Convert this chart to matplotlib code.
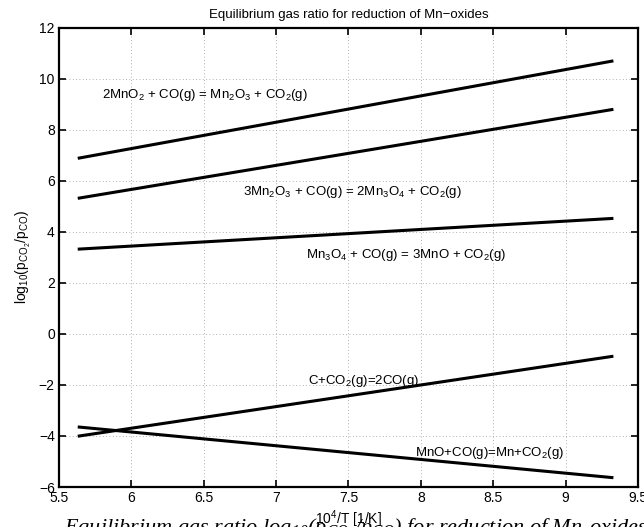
import matplotlib
matplotlib.use('Agg')
import numpy as np
import matplotlib.pyplot as plt

# x = 10^4/T, ends of the temperature range
inv_T = [5.64, 9.32]

# log10(pCO2/pCO) at both ends
mno2_mn2o3 = [6.9, 10.7]
mn2o3_mn3o4 = [5.33, 8.8]
mn3o4_mno = [3.33, 4.53]
boudouard = [-4.0, -0.88]
mno_mn = [-3.65, -5.63]

labels = [
    r"2MnO$_2$ + CO(g) = Mn$_2$O$_3$ + CO$_2$(g)",
    r"3Mn$_2$O$_3$ + CO(g) = 2Mn$_3$O$_4$ + CO$_2$(g)",
    r"Mn$_3$O$_4$ + CO(g) = 3MnO + CO$_2$(g)",
    r"C+CO$_2$(g)=2CO(g)",
    r"MnO+CO(g)=Mn+CO$_2$(g)",
]
label_x = [5.80, 6.77, 7.21, 7.22, 7.96]
label_y = [9.37, 5.58, 3.10, -1.85, -4.65]

plt.rcParams['font.family'] = ['Liberation Sans', 'DejaVu Sans']
plt.rcParams['mathtext.fontset'] = 'custom'
plt.rcParams['mathtext.rm'] = 'Liberation Sans'
plt.rcParams['mathtext.it'] = 'Liberation Sans'
plt.rcParams['mathtext.default'] = 'regular'

fig = plt.figure(figsize=(6.44, 5.27), dpi=100)
ax = fig.add_axes([0.0916, 0.0759, 0.899, 0.871])

for ys in [mno2_mn2o3, mn2o3_mn3o4, mn3o4_mno, boudouard, mno_mn]:
    ax.plot(inv_T, ys, color="black", linewidth=2.2)

for t, x, y in zip(labels, label_x, label_y):
    ax.text(x, y, t, fontsize=9.5, ha="left", va="center")

ax.set_xlim(5.5, 9.5)
ax.set_ylim(-6, 12)
ax.set_xticks(np.arange(5.5, 9.51, 0.5))
ax.set_xticklabels(["5.5", "6", "6.5", "7", "7.5", "8", "8.5", "9", "9.5"])
ax.set_yticks(np.arange(-6, 12.1, 2))
ax.set_yticklabels([str(v).replace("-", "\u2212") for v in range(-6, 13, 2)])

ax.grid(True, linestyle=(0, (1, 3)), color="gray", linewidth=0.6, alpha=0.8)
ax.tick_params(direction="in", top=True, right=True, length=5, width=1.2,
               labelsize=10, pad=3)
for spine in ax.spines.values():
    spine.set_linewidth(1.6)

ax.set_title("Equilibrium gas ratio for reduction of Mn\u2212oxides", fontsize=9.5, pad=7)
ax.set_xlabel(r"10$^4$/T [1/K]", fontsize=10, labelpad=2)
ax.set_ylabel(r"log$_{10}$(p$_{CO_2}$/p$_{CO}$)", fontsize=10, labelpad=4)

# caption of the document page, cut by the bottom edge
fig.text(0.10, 0.019, r"Equilibrium gas ratio log$_{10}$(p$_{CO_2}$/p$_{CO}$) for reduction of Mn-oxides",
         fontsize=16, family="Liberation Serif", style="italic", ha="left", va="top")

plt.savefig("out.png", dpi=100)
plt.close()
